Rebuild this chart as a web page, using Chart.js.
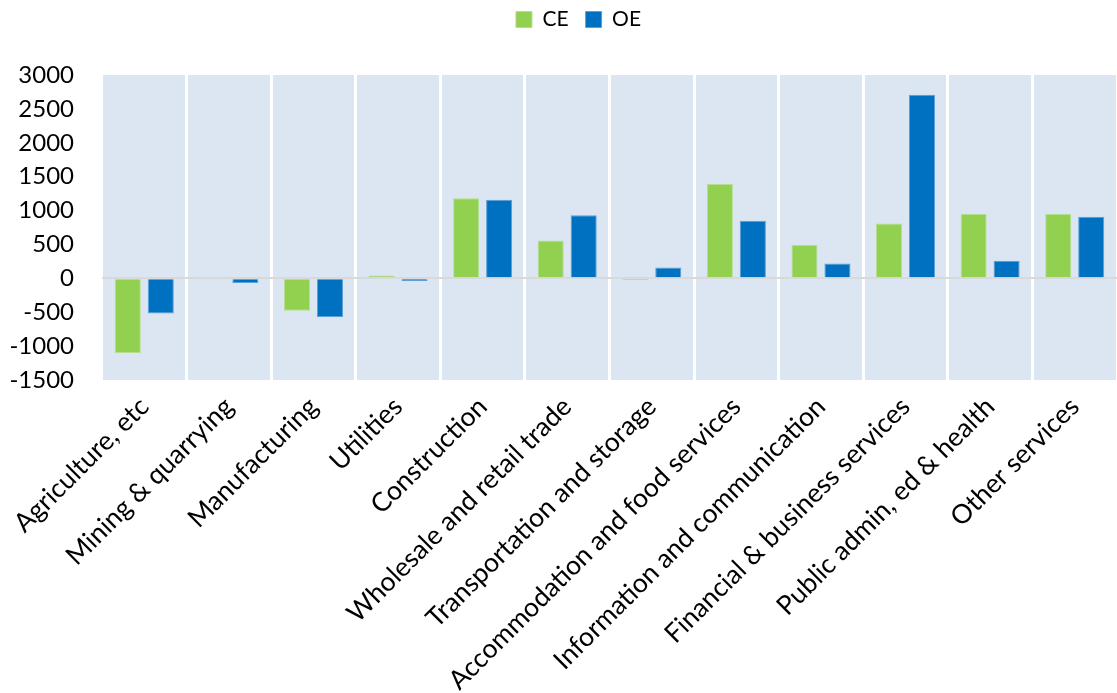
<!DOCTYPE html>
<html><head><meta charset="utf-8">
<script src="https://cdn.jsdelivr.net/npm/chart.js@4.4.0/dist/chart.umd.min.js"></script>
<style>html,body{margin:0;padding:0;background:#fff}#wrap{width:1117px;height:693px}</style>
</head><body><div id="wrap"><canvas id="c" width="1117" height="693"></canvas></div>
<script>
const categories = ["Agriculture, etc","Mining & quarrying","Manufacturing","Utilities","Construction","Wholesale and retail trade","Transportation and storage","Accommodation and food services","Information and communication","Financial & business services","Public admin, ed & health","Other services"];
const seriesNames = ["CE","OE"];
const ceValues = [-1100,-10,-480,40,1180,560,-30,1390,490,810,950,950];
const oeValues = [-520,-70,-570,-40,1160,930,160,850,220,2710,260,910];
const yMin = -1500, yMax = 3000, yStep = 500;

const FONT = "Lato, 'Liberation Sans', sans-serif";

const bgPlugin = {
  id:'bg',
  beforeDraw(chart){
    const a = chart.chartArea, ctx = chart.ctx;
    ctx.save(); ctx.fillStyle = '#DCE6F2';
    ctx.fillRect(a.left, a.top, a.right - a.left, a.bottom - a.top);
    ctx.restore();
  }
};
const legendTweak = {
  id:'legendTweak',
  beforeLayout(chart){
    const lg = chart.legend;
    if(lg && !lg._tw){
      lg._tw = true;
      const of = lg.fit.bind(lg);
      lg.fit = function(){ of(); this.height = 75; };
      const od = lg.draw.bind(lg);
      lg.draw = function(){ const ctx = this.ctx; ctx.save(); ctx.translate(20, -8); od(); ctx.restore(); };
    }
  }
};

new Chart(document.getElementById('c'), {
  type:'bar',
  data:{
    labels: categories,
    datasets:[
      {label:seriesNames[0], data:ceValues, backgroundColor:'#92D050', borderColor:'#B5DF8E', borderWidth:1, categoryPercentage:0.78, barPercentage:0.79},
      {label:seriesNames[1], data:oeValues, backgroundColor:'#0070C0', borderColor:'#5A9FD6', borderWidth:1, categoryPercentage:0.78, barPercentage:0.79}
    ]
  },
  options:{
    responsive:false, devicePixelRatio:1, animation:false,
    layout:{padding:{left:0,right:0,top:0,bottom:0}},
    plugins:{
      legend:{position:'top', labels:{font:{family:FONT,size:21}, color:'#000', boxWidth:16, boxHeight:16, padding:17}},
      tooltip:{enabled:false}
    },
    scales:{
      x:{
        grid:{color:'#ffffff', lineWidth:3, drawTicks:false, offset:true},
        border:{display:false},
        ticks:{font:{family:FONT,size:26.5}, color:'#000', maxRotation:45, minRotation:45, padding:11, autoSkip:false},
        afterFit(s){ s.height = 313; }
      },
      y:{
        min:yMin, max:yMax,
        grid:{color:(c)=> c.tick && c.tick.value === 0 ? '#D9D9D9' : 'rgba(0,0,0,0)', lineWidth:2, drawTicks:false},
        border:{display:false},
        ticks:{stepSize:yStep, font:{family:FONT,size:24}, color:'#000', padding:28, callback:(v)=>String(v)},
        afterFit(s){ s.width = 102; }
      }
    }
  },
  plugins:[bgPlugin, legendTweak]
});
</script></body></html>
